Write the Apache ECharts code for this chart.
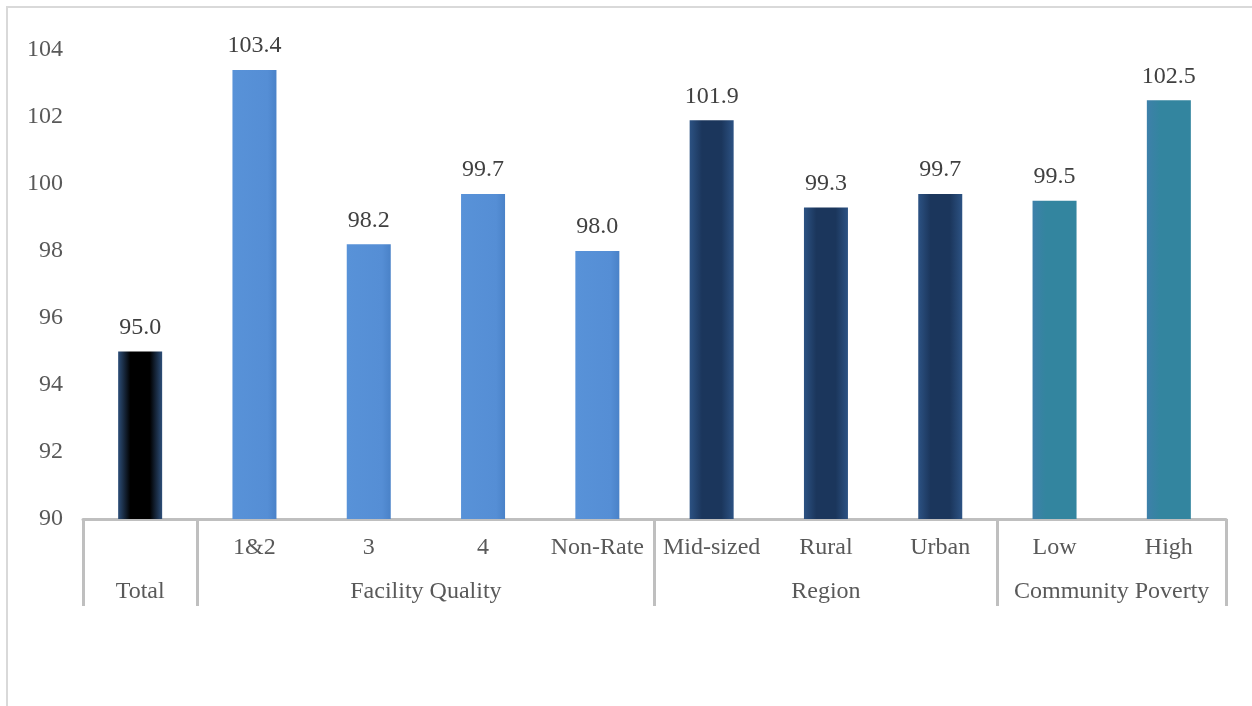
<!DOCTYPE html>
<html>
<head>
<meta charset="utf-8">
<script src="https://cdn.jsdelivr.net/npm/echarts@6/dist/echarts.min.js"></script>
<style>
html,body{margin:0;padding:0;background:#fff;}
#chart{width:1252px;height:706px;}
</style>
</head>
<body>
<div id="chart"></div>
<script>
// ---- data ----
const categories = ['Total', '1&2', '3', '4', 'Non-Rate', 'Mid-sized', 'Rural', 'Urban', 'Low', 'High'];
const subLabels = ['', '1&2', '3', '4', 'Non-Rate', 'Mid-sized', 'Rural', 'Urban', 'Low', 'High'];
const groupOf = ['Total', 'Facility Quality', 'Facility Quality', 'Facility Quality', 'Facility Quality', 'Region', 'Region', 'Region', 'Community Poverty', 'Community Poverty'];
const values = [95.0, 103.4, 98.2, 99.7, 98.0, 101.9, 99.3, 99.7, 99.5, 102.5];
const groups = ['Total', 'Facility Quality', 'Region', 'Community Poverty'];
const yTicks = { min: 90, max: 104, interval: 2 };

// ---- styles per group ----
function grad(edge, center) {
  return new echarts.graphic.LinearGradient(0, 0, 1, 0, [
    { offset: 0, color: edge }, { offset: 0.28, color: center },
    { offset: 0.72, color: center }, { offset: 1, color: edge }
  ]);
}
const groupStyle = {
  'Total': grad('#2d4e78', '#000000'),
  'Facility Quality': new echarts.graphic.LinearGradient(0, 0, 1, 0, [
    { offset: 0, color: '#5892d8' }, { offset: 0.8, color: '#558ed5' }, { offset: 1, color: '#4a82c8' }]),
  'Region': grad('#2c5283', '#1b365c'),
  'Community Poverty': new echarts.graphic.LinearGradient(0, 0, 1, 0, [
    { offset: 0, color: '#3e80aa' }, { offset: 0.3, color: '#33859f' }, { offset: 1, color: '#33859f' }])
};

// Secondary (group) axis built on half-category slots
const nSlots = categories.length * 2 + 1;
const groupAxisData = new Array(nSlots).fill('');
const boundaries = new Set([0, nSlots - 1]);
{
  let start = 0;
  for (let i = 1; i <= categories.length; i++) {
    if (i === categories.length || groupOf[i] !== groupOf[start]) {
      groupAxisData[start + i] = groupOf[start];
      boundaries.add(start * 2);
      boundaries.add(i * 2);
      start = i;
    }
  }
}

const chart = echarts.init(document.getElementById('chart'), null, { renderer: 'canvas' });
const font = 'Liberation Serif';
chart.setOption({
  animation: false,
  backgroundColor: '#fff',
  graphic: [{
    type: 'rect', shape: { x: 7, y: 7, width: 1400, height: 900 },
    style: { fill: 'none', stroke: '#d9d9d9', lineWidth: 2 }, silent: true, z: -10
  }],
  grid: { left: 83, right: 26, top: 50, bottom: 187, containLabel: false },
  xAxis: [{
    type: 'category', data: categories, position: 'bottom',
    axisLine: { show: true, lineStyle: { color: '#bfbfbf', width: 3 } },
    axisTick: { show: false },
    axisLabel: { interval: 0, margin: 17, fontFamily: font, fontSize: 24, color: '#595959',
      formatter: (v, i) => subLabels[i] }
  }, {
    type: 'category', data: groupAxisData, position: 'bottom', boundaryGap: false,
    axisLine: { show: false },
    axisTick: { show: true, length: 87, interval: (i) => boundaries.has(i), lineStyle: { color: '#bfbfbf', width: 3 } },
    axisLabel: { interval: (i, v) => v !== '', margin: 61, fontFamily: font, fontSize: 24, color: '#595959' }
  }],
  yAxis: {
    type: 'value', min: yTicks.min, max: yTicks.max, interval: yTicks.interval,
    axisLine: { show: false }, axisTick: { show: false }, splitLine: { show: false },
    axisLabel: { margin: 20, padding: [0, 0, 6, 0], fontFamily: font, fontSize: 24, color: '#595959' }
  },
  series: [{
    type: 'bar', xAxisIndex: 0, barWidth: 44,
    data: values.map((v, i) => ({ value: v, itemStyle: { color: groupStyle[groupOf[i]] } })),
    label: { show: true, position: 'top', distance: 12, fontFamily: font, fontSize: 24, color: '#404040',
      formatter: p => p.value.toFixed(1) }
  }]
});
</script>
</body>
</html>
